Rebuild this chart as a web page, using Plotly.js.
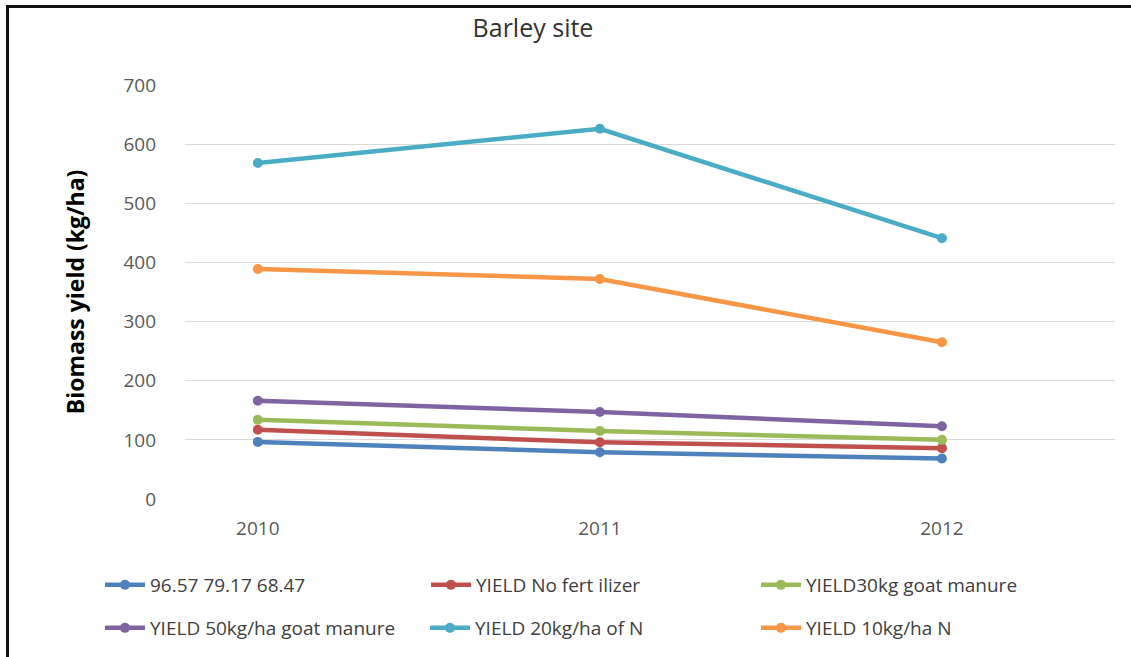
<!DOCTYPE html>
<html>
<head>
<meta charset="utf-8">
<script src="https://cdn.plot.ly/plotly-3.0.1.min.js"></script>
<style>
html,body{margin:0;padding:0;background:#fff;}
#chart{position:absolute;left:0;top:0;width:1131px;height:657px;}
#frame{position:absolute;left:6px;top:5px;width:1125px;height:652px;border-top:3px solid #111;border-left:3px solid #111;pointer-events:none;box-sizing:border-box;}
</style>
</head>
<body>
<div id="chart"></div>
<div id="frame"></div>
<script>
const years = ['2010', '2011', '2012'];
const seriesNames = [
  '96.57 79.17 68.47',
  'YIELD No fert ilizer',
  'YIELD30kg goat manure',
  'YIELD 50kg/ha goat manure',
  'YIELD 20kg/ha of N',
  'YIELD 10kg/ha N'
];
const yieldBlue = [96.57, 79.17, 68.47];
const yieldNoFert = [117, 96, 86];
const yield30Goat = [134, 115, 100];
const yield50Goat = [166, 147, 123];
const yield20N = [568, 626, 441];
const yield10N = [389, 372, 265];
const yTicks = [0, 100, 200, 300, 400, 500, 600, 700];

const seriesValues = [yieldBlue, yieldNoFert, yield30Goat, yield50Goat, yield20N, yield10N];
const colors = ['#4F81BD', '#C0504D', '#9BBB59', '#8064A2', '#4BACC6', '#F79646'];
const legendIds = ['legend', 'legend2', 'legend3', 'legend4', 'legend5', 'legend6'];

const traces = seriesValues.map((vals, i) => ({
  type: 'scatter',
  mode: 'lines+markers',
  x: years,
  y: vals,
  name: seriesNames[i],
  legend: legendIds[i],
  line: {color: colors[i], width: 4.5},
  marker: {color: colors[i], size: 10, symbol: 'circle'}
}));

const fontFam = '"Open Sans", "Noto Sans", Arial, sans-serif';
function legendAt(px, py) {
  return {
    orientation: 'h',
    xref: 'container', yref: 'container',
    xanchor: 'left', yanchor: 'middle',
    x: px / 1131, y: 1 - py / 657,
    font: {family: fontFam, size: 19, color: '#404040'},
    bgcolor: 'rgba(0,0,0,0)',
    itemwidth: 40
  };
}

const layout = {
  width: 1131, height: 657,
  paper_bgcolor: '#ffffff',
  plot_bgcolor: '#ffffff',
  margin: {l: 185, r: 16, t: 85, b: 158},
  title: {
    text: 'Barley site',
    font: {family: fontFam, size: 25, color: '#333333'},
    x: 533 / 1131, xanchor: 'center', xref: 'container',
    y: 1 - 28 / 657, yanchor: 'middle', yref: 'container'
  },
  xaxis: {
    type: 'category',
    categoryorder: 'array',
    categoryarray: years,
    range: [-0.213, 2.506],
    showgrid: false,
    zeroline: false,
    showline: false,
    ticks: '',
    ticklabelstandoff: 16,
    tickfont: {family: fontFam, size: 19, color: '#595959'}
  },
  yaxis: {
    range: [0, 700],
    tickvals: yTicks,
    ticktext: yTicks.map(String),
    showgrid: true,
    gridcolor: '#d9d9d9',
    gridwidth: 1,
    zeroline: false,
    showline: false,
    ticks: '',
    ticklabelstandoff: 28,
    tickfont: {family: fontFam, size: 19, color: '#595959'},
    title: {
      text: '<b>Biomass yield (kg/ha)</b>',
      font: {family: fontFam, size: 23, color: '#000000'},
      standoff: 32
    }
  },
  showlegend: true,
  legend: legendAt(100, 585),
  legend2: legendAt(426, 585),
  legend3: legendAt(756, 585),
  legend4: legendAt(100, 628),
  legend5: legendAt(425, 628),
  legend6: legendAt(756, 628)
};

Plotly.newPlot('chart', traces, layout, {displayModeBar: false, staticPlot: true});
</script>
</body>
</html>
